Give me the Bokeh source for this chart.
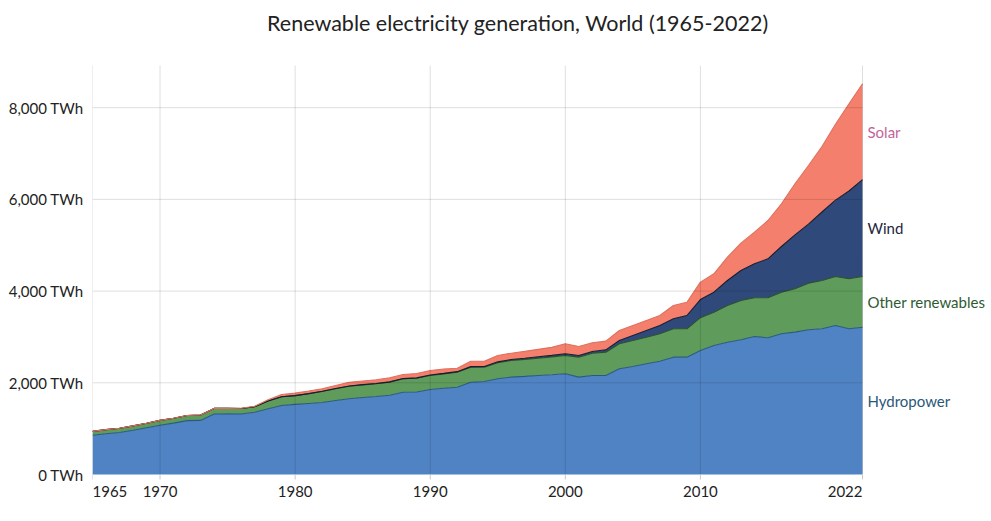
from bokeh.plotting import figure
from bokeh.models import Range1d, FixedTicker, ColumnDataSource
from bokeh.core.properties import value
from bokeh.embed import file_html
from bokeh.resources import INLINE

# ---------------- data (TWh) ----------------
years = list(range(1965, 2023))
hydro = [855, 890, 915, 965, 1020, 1075, 1120, 1175, 1180, 1320,
         1323, 1320, 1359, 1432, 1505, 1530, 1550, 1570, 1615, 1651,
         1680, 1701, 1730, 1795, 1800, 1854, 1880, 1904, 2013, 2028,
         2087, 2123, 2140, 2159, 2175, 2196, 2123, 2159, 2160, 2305,
         2355, 2414, 2471, 2559, 2559, 2704, 2813, 2886, 2937, 3010,
         2981, 3069, 3105, 3156, 3178, 3250, 3178, 3213]
other = [85, 88, 92, 95, 98, 105, 108, 112, 118, 122,
         120, 118, 120, 170, 190, 190, 210, 240, 255, 275,
         275, 277, 285, 292, 300, 305, 315, 327, 327, 312,
         350, 363, 370, 378, 390, 400, 436, 487, 508, 545,
         567, 581, 598, 619, 619, 716, 727, 800, 858, 844,
         873, 908, 945, 1017, 1053, 1068, 1090, 1105]
wind = [0, 0, 0, 0, 0, 0, 0, 0, 0, 0,
        0, 0, 0, 0, 0, 0, 3, 5, 5, 5,
        5, 5, 5, 5, 8, 10, 10, 12, 13, 15,
        20, 22, 25, 30, 33, 37, 36, 37, 51, 72,
        110, 146, 181, 218, 290, 395, 437, 545, 654, 741,
        850, 996, 1177, 1287, 1494, 1665, 1915, 2112]
solar = [0, 0, 0, 0, 0, 0, 0, 0, 0, 0,
         0, 8, 11, 27, 50, 55, 58, 55, 65, 82,
         80, 82, 90, 90, 95, 100, 95, 75, 118, 116,
         140, 138, 150, 162, 175, 218, 197, 189, 189, 219,
         218, 218, 218, 290, 290, 380, 400, 509, 596, 690,
         836, 931, 1113, 1279, 1429, 1657, 1902, 2091]

series_keys = ["hydro", "other", "wind", "solar"]
series_names = ["Hydropower", "Other renewables", "Wind", "Solar"]
x_ticks = [1965, 1970, 1980, 1990, 2000, 2010, 2022]
y_ticks = [0, 2000, 4000, 6000, 8000]
y_tick_labels = ["0 TWh", "2,000 TWh", "4,000 TWh", "6,000 TWh", "8,000 TWh"]
title_text = "Renewable electricity generation, World (1965-2022)"

# ---------------- layout / styles ----------------
fill_colors = ["#5083c4", "#5f9c5c", "#2f4a7a", "#f47f6c"]
edge_colors = ["#2a5a80", "#2b4f2b", "#151d30", "#e0705e"]
label_colors = ["#2b5877", "#2e5a32", "#1d2740", "#c4639a"]
FONT = "Lato"

W, H = 990, 520
LEFT = 92                      # space for the y tick labels
PLOT_W, PLOT_H, PLOT_TOP = 770, 409, 65   # data area in pixels
Y_TOP = 8920                   # value at the top of the data area
X0, X1 = years[0], years[-1]
px_x = PLOT_W / (X1 - X0)      # pixels per year
px_y = PLOT_H / Y_TOP          # pixels per TWh
frame_w = W - LEFT
x_end = X0 + frame_w / px_x
y_end = Y_TOP + PLOT_TOP / px_y
y_start = -(H - PLOT_TOP - PLOT_H) / px_y

src = ColumnDataSource(dict(year=years, hydro=hydro, other=other, wind=wind, solar=solar))

p = figure(width=W, height=H, output_backend="svg", toolbar_location=None,
           x_range=Range1d(X0, x_end), y_range=Range1d(y_start, y_end),
           min_border_left=LEFT, min_border_right=0, min_border_top=0, min_border_bottom=0)
p.outline_line_color = None
p.background_fill_color = "white"
p.border_fill_color = "white"
p.xgrid.visible = False
p.ygrid.visible = False
p.xaxis.visible = False

p.varea_stack(stackers=series_keys, x="year", color=fill_colors, source=src)

# boundary lines at the top of each stacked layer
cum = [0] * len(years)
for vals, col in zip([hydro, other, wind, solar], edge_colors):
    cum = [c + v for c, v in zip(cum, vals)]
    p.line(years, cum, line_color=col, line_width=1.1)

# faint grid over the areas
p.segment(x0=x_ticks, y0=[0] * len(x_ticks), x1=x_ticks, y1=[Y_TOP] * len(x_ticks),
          line_color="#000000", line_alpha=0.13, line_width=1)
p.segment(x0=[X0] * len(y_ticks[1:]), y0=y_ticks[1:], x1=[X1] * len(y_ticks[1:]), y1=y_ticks[1:],
          line_color="#000000", line_alpha=0.13, line_width=1)

# y axis (left)
ya = p.yaxis[0]
ya.ticker = FixedTicker(ticks=y_ticks)
ya.major_label_overrides = {t: s for t, s in zip(y_ticks, y_tick_labels)}
ya.axis_line_color = None
ya.major_tick_line_color = None
ya.major_tick_in = 0
ya.major_tick_out = 0
ya.minor_tick_line_color = None
ya.minor_tick_out = 0
ya.major_label_standoff = 9
ya.major_label_text_font = FONT
ya.major_label_text_font_size = "15px"
ya.major_label_text_color = "#222222"

# x ticks and labels (first left-aligned, last right-aligned)
p.segment(x0=x_ticks, y0=[0] * len(x_ticks), x1=x_ticks, y1=[-5 / px_y] * len(x_ticks),
          line_color="#c8c8c8", line_width=1)
aligns = ["left"] + ["center"] * (len(x_ticks) - 2) + ["right"]
p.text(x=x_ticks, y=[-17 / px_y] * len(x_ticks), text=[str(t) for t in x_ticks],
       text_align=aligns, text_baseline="middle", text_font=value(FONT),
       text_font_size="15px", text_color="#222222")

# series labels right of the last year, centred on each band
mids, base = [], 0
for vals in [hydro, other, wind, solar]:
    mids.append(base + vals[-1] / 2)
    base += vals[-1]
p.text(x=[X1 + 5 / px_x] * 4, y=mids, text=series_names, text_align="left",
       text_baseline="middle", text_font=value(FONT), text_font_size="15px",
       text_color=label_colors)

# title
p.text(x=[X0 + (517.5 - LEFT) / px_x], y=[Y_TOP + (PLOT_TOP - 22) / px_y], text=[title_text],
       text_align="center", text_baseline="middle", text_font=value(FONT),
       text_font_size="21.5px", text_color="#222222")

open("out.html", "w").write(file_html(p, INLINE))
